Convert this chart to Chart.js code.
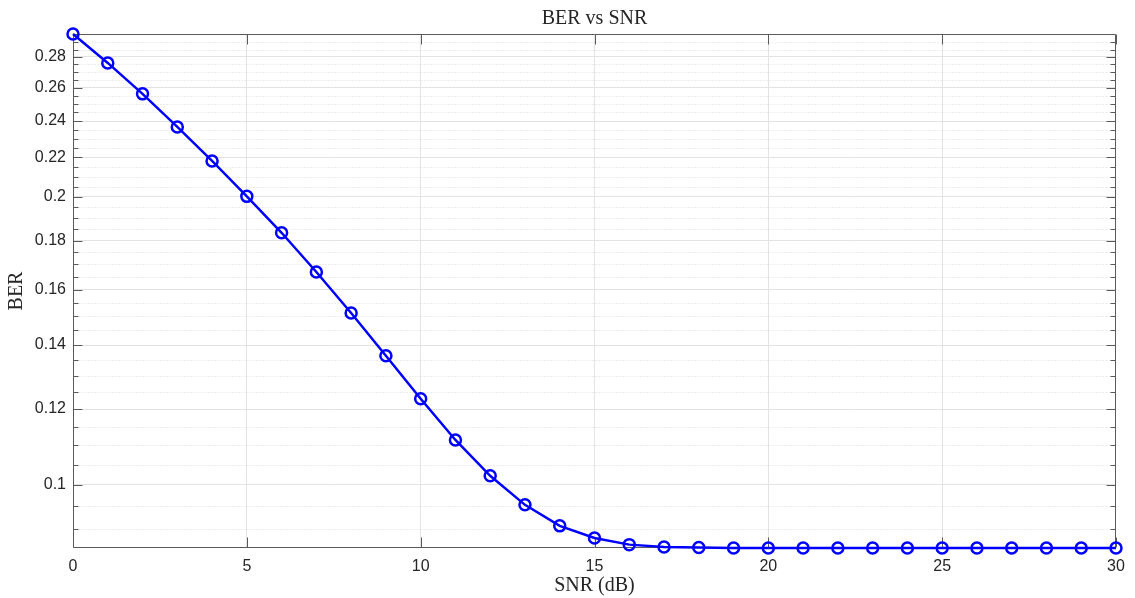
<!DOCTYPE html>
<html>
<head>
<meta charset="utf-8">
<title>BER vs SNR</title>
<script src="https://cdn.jsdelivr.net/npm/chart.js@4/dist/chart.umd.min.js"></script>
<style>
  html, body { margin: 0; padding: 0; background: #fff; }
</style>
</head>
<body>
<canvas id="berChart" width="1135" height="598"></canvas>
<script>
var snrValues = [0, 1, 2, 3, 4, 5, 6, 7, 8, 9, 10, 11, 12, 13, 14, 15,
  16, 17, 18, 19, 20, 21, 22, 23, 24, 25, 26, 27, 28, 29, 30];
var berValues = [0.2959, 0.2760, 0.2562, 0.2366, 0.2180, 0.2002, 0.1834, 0.1669,
  0.1512, 0.1364, 0.1230, 0.1114, 0.1022, 0.0953, 0.0906, 0.0880, 0.0866,
  0.0861, 0.0860, 0.0859, 0.0859, 0.0859, 0.0859, 0.0859, 0.0859, 0.0859,
  0.0859, 0.0859, 0.0859, 0.0859, 0.0859];

var xTicks = [0, 5, 10, 15, 20, 25, 30];
var yMajorTicks = [0.1, 0.12, 0.14, 0.16, 0.18, 0.2, 0.22, 0.24, 0.26, 0.28];
var yMinorTicks = [0.09, 0.095, 0.105, 0.11, 0.115, 0.125, 0.13, 0.135, 0.145,
  0.15, 0.155, 0.165, 0.17, 0.175, 0.185, 0.19, 0.195, 0.205, 0.21, 0.215,
  0.225, 0.23, 0.235, 0.245, 0.25, 0.255, 0.265, 0.27, 0.275, 0.285, 0.29];

var axisColor = "#5a5a5a";
var textColor = "#262626";

// box, inward ticks and dotted minor grid, the way matlab draws them
const matlabAxes = {
  id: "matlabAxes",
  beforeDatasetsDraw: function (chart) {
    const ctx = chart.ctx;
    const a = chart.chartArea;
    const x = chart.scales.x;
    const y = chart.scales.y;
    const left = Math.round(a.left) + 0.5;
    const right = Math.round(a.right) - 0.5;
    const top = Math.round(a.top) + 0.5;
    const bottom = Math.round(a.bottom) - 0.5;

    ctx.save();
    ctx.lineWidth = 1;

    // minor grid
    ctx.strokeStyle = "#dadada";
    ctx.setLineDash([1, 2]);
    ctx.beginPath();
    yMinorTicks.forEach(function (v) {
      const py = Math.round(y.getPixelForValue(v)) + 0.5;
      ctx.moveTo(left, py);
      ctx.lineTo(right, py);
    });
    ctx.stroke();
    ctx.setLineDash([]);

    ctx.strokeStyle = axisColor;
    ctx.beginPath();
    ctx.rect(left, top, right - left, bottom - top);
    yMajorTicks.forEach(function (v) {
      const py = Math.round(y.getPixelForValue(v)) + 0.5;
      ctx.moveTo(left, py); ctx.lineTo(left + 9, py);
      ctx.moveTo(right, py); ctx.lineTo(right - 9, py);
    });
    yMinorTicks.forEach(function (v) {
      const py = Math.round(y.getPixelForValue(v)) + 0.5;
      ctx.moveTo(left, py); ctx.lineTo(left + 5, py);
      ctx.moveTo(right, py); ctx.lineTo(right - 5, py);
    });
    xTicks.forEach(function (v) {
      const px = Math.round(x.getPixelForValue(v)) + 0.5;
      ctx.moveTo(px, bottom); ctx.lineTo(px, bottom - 10);
      ctx.moveTo(px, top); ctx.lineTo(px, top + 10);
    });
    ctx.stroke();
    ctx.restore();
  }
};

const ctx = document.getElementById("berChart").getContext("2d");

const berChart = new Chart(ctx, {
  type: "line",
  data: {
    labels: snrValues,
    datasets: [
      {
        label: "BER",
        data: snrValues.map(function (s, i) { return { x: s, y: berValues[i] }; }),
        borderColor: "#0000ff",
        backgroundColor: "rgba(0,0,0,0)",
        borderWidth: 2.5,
        pointStyle: "circle",
        pointRadius: 5.5,
        pointBorderWidth: 2.5,
        pointBorderColor: "#0000ff",
        pointBackgroundColor: "rgba(0,0,0,0)",
        tension: 0,
        fill: false,
        clip: false
      }
    ]
  },
  options: {
    responsive: false,
    animation: false,
    events: [],
    layout: { padding: { left: 0, right: 19, top: 0, bottom: 0 } },
    plugins: {
      legend: { display: false },
      tooltip: { enabled: false },
      title: {
        display: true,
        fullSize: false, // center over the plot box, not the canvas
        text: "BER vs SNR",
        color: textColor,
        font: { family: "'Liberation Serif', 'Times New Roman', serif", size: 20, weight: "normal", lineHeight: 1 },
        padding: { top: 9, bottom: 5 }
      }
    },
    scales: {
      x: {
        type: "linear",
        min: 0,
        max: 30,
        afterBuildTicks: function (scale) {
          scale.ticks = xTicks.map(function (v) { return { value: v }; });
        },
        afterFit: function (scale) { scale.height = 50; },
        border: { display: false },
        grid: {
          drawTicks: false,
          lineWidth: 1,
          color: function (c) {
            if (!c.tick) return "rgba(0,0,0,0)";
            return (c.tick.value === 0 || c.tick.value === 30) ? "rgba(0,0,0,0)" : "#e3e3e3";
          }
        },
        ticks: {
          autoSkip: false,
          maxRotation: 0,
          padding: 9,
          color: textColor,
          font: { family: "'Liberation Sans', Arial, sans-serif", size: 16 }
        },
        title: {
          display: true,
          text: "SNR (dB)",
          color: textColor,
          font: { family: "'Liberation Serif', 'Times New Roman', serif", size: 20, lineHeight: 1 },
          padding: { top: 0, bottom: 2 }
        }
      },
      y: {
        type: "logarithmic",
        min: 0.0859,
        max: 0.2959,
        afterBuildTicks: function (scale) {
          scale.ticks = yMajorTicks.map(function (v) { return { value: v, major: true }; });
        },
        afterFit: function (scale) { scale.width = 73; },
        border: { display: false },
        grid: {
          drawTicks: false,
          lineWidth: 1,
          color: "#e3e3e3"
        },
        ticks: {
          autoSkip: false,
          padding: 7,
          color: textColor,
          font: { family: "'Liberation Sans', Arial, sans-serif", size: 16 },
          callback: function (value) { return String(value); }
        },
        title: {
          display: true,
          text: "BER",
          color: textColor,
          font: { family: "'Liberation Serif', 'Times New Roman', serif", size: 20, lineHeight: 1 },
          padding: { top: 7, bottom: 0 }
        }
      }
    }
  },
  plugins: [matlabAxes]
});
</script>
</body>
</html>
